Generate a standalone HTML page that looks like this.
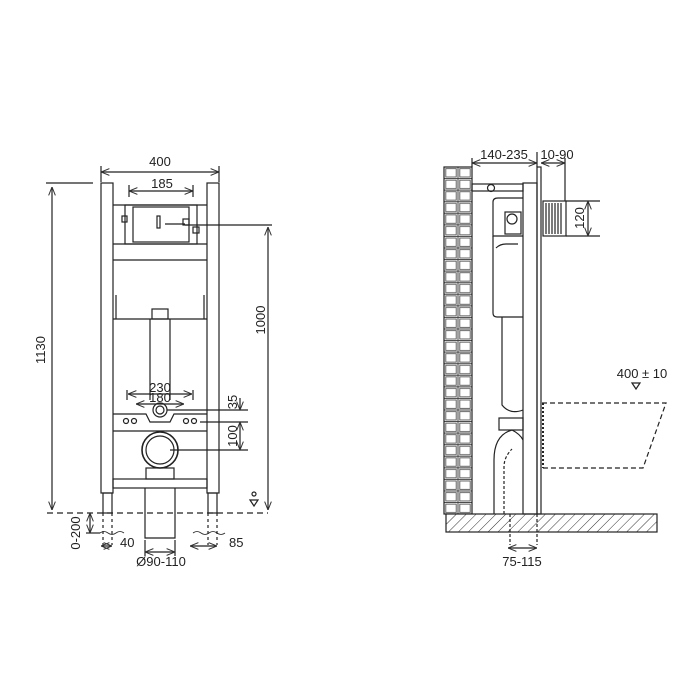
<!DOCTYPE html>
<html><head><meta charset="utf-8"><style>
html,body{margin:0;padding:0;background:#fff}
svg{display:block}
text{font-family:"Liberation Sans",sans-serif;fill:#222;font-size:13px}
</style></head><body>
<svg width="700" height="700" viewBox="0 0 700 700" xmlns="http://www.w3.org/2000/svg">
<defs>
<marker id="a" viewBox="0 0 10 10" refX="10" refY="5" markerWidth="7" markerHeight="7" orient="auto-start-reverse"><path d="M0,1 L10,5 L0,9" fill="none" stroke="#333" stroke-width="1.2"/></marker>
<pattern id="brick" x="444" y="167" width="14" height="11.57" patternUnits="userSpaceOnUse">
<rect x="0" y="0" width="14" height="11.57" fill="#fff"/>
<rect x="1.8" y="1.6" width="10.4" height="8.4" fill="#fff" stroke="#555" stroke-width="0.9"/>
<rect x="0" y="0" width="14" height="11.57" fill="none" stroke="#444" stroke-width="1"/>
</pattern>
<pattern id="hatch" width="7" height="7" patternUnits="userSpaceOnUse" patternTransform="rotate(45)">
<rect width="7" height="7" fill="#fff"/><line x1="0" y1="0" x2="0" y2="7" stroke="#333" stroke-width="1"/>
</pattern>
</defs>
<g fill="none" stroke="#222" stroke-width="1.2">
<rect x="101" y="183" width="12" height="310"/>
<rect x="207" y="183" width="12" height="310"/>
<rect x="103" y="493" width="9" height="20"/>
<rect x="208" y="493" width="9" height="20"/>
<line x1="113" y1="205" x2="207" y2="205"/>
<rect x="125" y="205" width="72" height="39"/>
<rect x="133" y="207" width="56" height="35"/>
<rect x="157" y="216" width="3" height="12"/>
<line x1="165" y1="224" x2="185" y2="224"/>
<rect x="183" y="219" width="6" height="6"/>
<rect x="122" y="216" width="5" height="6"/>
<rect x="193" y="227" width="6" height="6"/>
<line x1="113" y1="244" x2="207" y2="244"/>
<line x1="113" y1="260" x2="207" y2="260"/>
<line x1="113" y1="319" x2="207" y2="319"/>
<line x1="116" y1="295" x2="116" y2="319"/>
<line x1="204" y1="295" x2="204" y2="319"/>
<rect x="152" y="309" width="16" height="10"/>
<line x1="150" y1="319" x2="150" y2="400"/>
<line x1="170" y1="319" x2="170" y2="400"/>
<path d="M113 414 H146 L150 422 H170 L174 414 H207"/>
<line x1="113" y1="431" x2="207" y2="431"/>
<circle cx="160" cy="410" r="7"/><circle cx="160" cy="410" r="4"/>
<circle cx="126" cy="421" r="2.5"/><circle cx="134" cy="421" r="2.5"/>
<circle cx="186" cy="421" r="2.5"/><circle cx="194" cy="421" r="2.5"/>
<circle cx="160" cy="450" r="18" stroke-width="1.6"/><circle cx="160" cy="450" r="14"/>
<rect x="146" y="468" width="28" height="11"/>
<rect x="113" y="479" width="94" height="9"/>
<path d="M145 488 V538 H175 V488"/>
<line x1="47" y1="513" x2="268" y2="513" stroke-dasharray="6,4"/>
<path d="M103 513 V545 M112 513 V545 M208 513 V545 M217 513 V545" stroke-dasharray="3,3"/>
<path d="M100 533 q4 -3 8 0 t8 0 t8 0 M193 533 q4 -3 8 0 t8 0 t8 0 t8 0" stroke-width="0.8"/>
<line x1="101" y1="172" x2="219" y2="172" marker-start="url(#a)" marker-end="url(#a)"/>
<line x1="101" y1="166" x2="101" y2="182"/><line x1="219" y1="166" x2="219" y2="182"/>
<line x1="129" y1="191" x2="193" y2="191" marker-start="url(#a)" marker-end="url(#a)"/>
<line x1="129" y1="185" x2="129" y2="197"/><line x1="193" y1="185" x2="193" y2="197"/>
<line x1="46" y1="183" x2="93" y2="183"/>
<line x1="52" y1="187" x2="52" y2="510" marker-start="url(#a)" marker-end="url(#a)"/>
<line x1="185" y1="225" x2="272" y2="225"/>
<line x1="268" y1="227" x2="268" y2="510" marker-start="url(#a)" marker-end="url(#a)"/>
<line x1="128" y1="394" x2="192" y2="394" marker-start="url(#a)" marker-end="url(#a)"/>
<line x1="136" y1="404" x2="184" y2="404" marker-start="url(#a)" marker-end="url(#a)"/>
<line x1="127" y1="390" x2="127" y2="400"/><line x1="193" y1="390" x2="193" y2="400"/>
<line x1="167" y1="410" x2="248" y2="410"/><line x1="200" y1="422" x2="248" y2="422"/><line x1="170" y1="450" x2="248" y2="450"/>
<line x1="240" y1="398" x2="240" y2="410" marker-end="url(#a)"/>
<line x1="240" y1="422" x2="240" y2="450" marker-start="url(#a)" marker-end="url(#a)"/>
<line x1="90" y1="513" x2="90" y2="533" marker-start="url(#a)" marker-end="url(#a)"/>
<line x1="86" y1="533" x2="100" y2="533"/>
<line x1="101" y1="546" x2="112" y2="546" marker-start="url(#a)" marker-end="url(#a)"/>
<line x1="190" y1="546" x2="217" y2="546" marker-start="url(#a)" marker-end="url(#a)"/>
<line x1="145" y1="540" x2="145" y2="556"/><line x1="175" y1="540" x2="175" y2="556"/>
<line x1="145" y1="552" x2="175" y2="552" marker-start="url(#a)" marker-end="url(#a)"/>
<path d="M250 500 l4 6 l4 -6 z"/><circle cx="254" cy="494" r="2"/>

<rect x="444" y="167" width="28" height="347" fill="url(#brick)"/>
<rect x="446" y="514" width="211" height="18" fill="url(#hatch)"/>
<rect x="537" y="167" width="4" height="347"/>
<rect x="523" y="183" width="14" height="331"/>
<rect x="472" y="184" width="51" height="7"/>
<circle cx="491" cy="188" r="3.5"/>
<rect x="543" y="201" width="23" height="35"/>
<path d="M546 203 V234 M549 203 V234 M552 203 V234 M555 203 V234 M558 203 V234 M561 203 V234"/>
<path d="M493 202 q0 -4 5 -4 h25 M493 202 V236 H523"/>
<circle cx="512" cy="219" r="5"/><rect x="505" y="212" width="16" height="22"/>
<path d="M493 236 V313 q0 4 4 4 H523"/>
<path d="M496 248 q4 -4 10 -4 h12"/>
<path d="M502 317 V405 q8 10 21 5"/>
<rect x="499" y="418" width="24" height="12"/>
<path d="M494 514 V460 q0 -25 18 -30 q8 4 11 10"/>
<path d="M504 514 V467 q0 -10 8 -18" stroke-dasharray="3,2"/>
<path d="M510 514 V545 M537 514 V545" stroke-dasharray="3,2"/>
<path d="M542 403 H666 L643 468 H542" stroke-dasharray="5,3"/>
<path d="M543 403 V468" stroke-dasharray="2,2" stroke-width="2"/>
<path d="M632 383 l4 6 l4 -6 z"/>
<line x1="472" y1="163" x2="537" y2="163" marker-start="url(#a)" marker-end="url(#a)"/>
<line x1="541" y1="163" x2="565" y2="163" marker-start="url(#a)" marker-end="url(#a)"/>
<line x1="472" y1="158" x2="472" y2="167"/><line x1="537" y1="152" x2="537" y2="167"/><line x1="565" y1="158" x2="565" y2="201"/>
<line x1="566" y1="201" x2="600" y2="201"/><line x1="566" y1="236" x2="600" y2="236"/>
<line x1="588" y1="201" x2="588" y2="236" marker-start="url(#a)" marker-end="url(#a)"/>
<line x1="508" y1="548" x2="537" y2="548" marker-start="url(#a)" marker-end="url(#a)"/>
</g>
<g stroke="none">
<text x="160" y="166" text-anchor="middle">400</text>
<text x="162" y="188" text-anchor="middle">185</text>
<text x="160" y="392" text-anchor="middle">230</text>
<text x="160" y="402" text-anchor="middle">180</text>
<text transform="translate(45,350) rotate(-90)" text-anchor="middle">1130</text>
<text transform="translate(265,320) rotate(-90)" text-anchor="middle">1000</text>
<text transform="translate(237,402) rotate(-90)" text-anchor="middle">35</text>
<text transform="translate(237,436) rotate(-90)" text-anchor="middle">100</text>
<text transform="translate(80,533) rotate(-90)" text-anchor="middle">0-200</text>
<text x="120" y="547">40</text>
<text x="229" y="547">85</text>
<text x="161" y="566" text-anchor="middle">Ø90-110</text>
<text x="504" y="159" text-anchor="middle">140-235</text>
<text x="557" y="159" text-anchor="middle">10-90</text>
<text transform="translate(584,218) rotate(-90)" text-anchor="middle">120</text>
<text x="642" y="378" text-anchor="middle">400 ± 10</text>
<text x="522" y="566" text-anchor="middle">75-115</text>
</g>
</svg>
</body></html>
